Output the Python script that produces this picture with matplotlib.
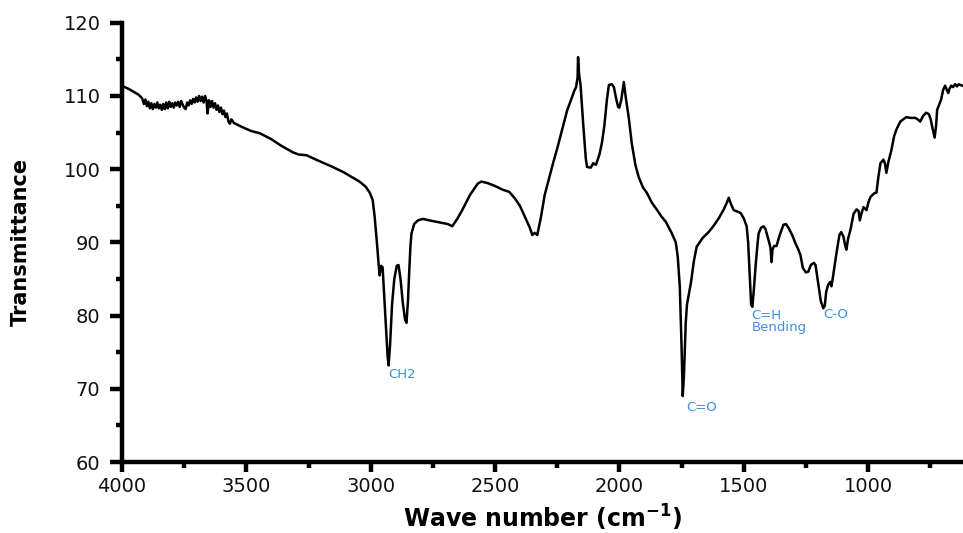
import matplotlib
matplotlib.use("Agg")
import matplotlib.pyplot as plt
from matplotlib.ticker import MultipleLocator, FixedLocator

# Wavenumber (cm-1) and transmittance
wavenumber = [
    4000, 3995, 3970, 3950, 3935, 3925, 3918, 3912, 3906, 3900, 3894, 3888, 3882,
    3876, 3870, 3864, 3858, 3852, 3846, 3840, 3834, 3828, 3822, 3816, 3810, 3804,
    3798, 3792, 3786, 3780, 3774, 3768, 3762, 3756, 3750, 3744, 3738, 3732, 3726,
    3720, 3714, 3708, 3702, 3696, 3690, 3684, 3678, 3672, 3666, 3660, 3656, 3650,
    3644, 3638, 3632, 3626, 3620, 3614, 3608, 3602, 3596, 3590, 3584, 3578, 3572,
    3566, 3560, 3550, 3520, 3480, 3446, 3400, 3360, 3313, 3290, 3258, 3220, 3180,
    3153, 3110, 3070, 3045, 3020, 3004, 2992, 2984, 2975, 2968, 2964, 2958, 2952,
    2946, 2938, 2932, 2928, 2922, 2914, 2905, 2895, 2888, 2880, 2870, 2862, 2856,
    2850, 2845, 2840, 2836, 2825, 2810, 2790, 2764, 2720, 2690, 2672, 2650, 2632,
    2600, 2570, 2555, 2530, 2500, 2470, 2443, 2420, 2400, 2380, 2360, 2350, 2340,
    2330, 2315, 2300, 2282, 2265, 2250, 2230, 2210, 2194, 2180, 2174, 2168, 2166,
    2162, 2156, 2145, 2135, 2130, 2115, 2105, 2094, 2080, 2070, 2060, 2050, 2042,
    2030, 2022, 2012, 2005, 2000, 1992, 1982, 1975, 1962, 1950, 1935, 1922, 1905,
    1890, 1869, 1850, 1830, 1813, 1790, 1773, 1765, 1757, 1750, 1745, 1740, 1733,
    1728, 1720, 1712, 1700, 1689, 1665, 1641, 1620, 1600, 1580, 1568, 1560, 1552,
    1540, 1525, 1512, 1500, 1488, 1482, 1475, 1470, 1465, 1458, 1452, 1445, 1440,
    1430, 1420, 1412, 1404, 1396, 1392, 1388, 1384, 1378, 1368, 1355, 1340, 1330,
    1320, 1305, 1292, 1280, 1272, 1262, 1250, 1240, 1230, 1218, 1211, 1205, 1199,
    1190, 1180, 1174, 1168, 1160, 1152, 1147, 1140, 1127, 1115, 1108, 1099, 1092,
    1087, 1080, 1070, 1058, 1046, 1038, 1033, 1026, 1018, 1006, 998, 990, 975,
    966, 958, 950, 938, 932, 926, 918, 906, 895, 886, 870, 858, 846, 830, 810,
    800, 790, 778, 766, 755, 748, 740, 732, 726, 722, 714, 706, 698, 690, 684,
    677, 672, 665, 658, 650, 642, 635, 629, 620,
]
transmittance = [
    111.5, 111.3, 110.9, 110.5, 110.2, 109.9, 109.6, 108.9, 109.5, 108.6, 109.2, 108.3, 109.0,
    108.2, 108.9, 108.4, 109.1, 108.3, 108.8, 108.1, 108.9, 108.2, 109.1, 108.3, 109.2, 108.5,
    109.0, 108.4, 109.1, 108.7, 109.2, 108.5, 109.3, 108.8, 108.4, 108.2, 109.1, 108.7, 109.4,
    108.9, 109.6, 109.1, 109.8, 109.2, 110.0, 109.3, 109.9, 109.1, 110.0, 109.3, 107.6, 109.4,
    108.5, 109.3, 108.4, 109.0, 108.1, 108.7, 107.8, 108.4, 107.5, 108.0, 107.1, 107.6, 106.5,
    106.2, 106.8, 106.3, 105.8, 105.2, 104.9, 104.1, 103.2, 102.3, 102.0, 101.9, 101.3, 100.7,
    100.3, 99.6, 98.8, 98.3, 97.6, 96.8, 95.8, 93.5, 90.0, 87.0, 85.5, 86.8, 86.6,
    83.0, 78.0, 74.5, 73.2, 76.0, 81.5, 85.0, 86.8, 86.9, 85.0, 81.5, 79.5, 79.0,
    82.0, 86.0, 89.5, 91.2, 92.5, 93.0, 93.2, 93.0, 92.7, 92.5, 92.2, 93.3, 94.4,
    96.5, 98.0, 98.3, 98.1, 97.7, 97.2, 96.9, 96.0, 95.0, 93.5, 92.0, 91.0, 91.3,
    91.0, 93.5, 96.5, 98.8, 101.0, 102.8, 105.4, 108.0, 109.5, 110.8, 111.2, 112.5, 115.3,
    113.0, 111.5, 106.0, 101.5, 100.3, 100.2, 100.8, 100.6, 102.0, 103.6, 106.0, 109.5, 111.5,
    111.6, 111.2, 109.5, 108.5, 108.4, 109.5, 111.9, 110.0, 107.0, 103.5, 100.5, 98.9, 97.5,
    96.8, 95.4, 94.5, 93.5, 92.8, 91.3, 90.0, 88.0, 84.0, 76.0, 69.0, 72.0, 79.0,
    81.5, 83.0, 84.5, 87.5, 89.4, 90.6, 91.4, 92.3, 93.3, 94.5, 95.4, 96.1, 95.3,
    94.4, 94.2, 94.0, 93.3, 92.2, 90.0, 85.0, 81.5, 81.2, 84.0, 86.8, 89.5, 91.2,
    92.0, 92.2, 91.8, 90.8, 89.8, 89.2, 87.3, 89.0, 89.5, 89.5, 91.0, 92.4, 92.5,
    92.0, 91.0, 89.9, 89.0, 88.3, 86.5, 85.9, 86.0, 86.9, 87.2, 86.9, 85.5, 84.0,
    82.0, 81.0, 81.3, 83.3, 84.2, 84.6, 84.0, 85.5, 88.5, 91.0, 91.4, 90.8, 89.6,
    89.0, 90.5, 91.8, 93.9, 94.5, 94.3, 93.0, 94.0, 94.8, 94.4, 95.5, 96.2, 96.7,
    96.8, 99.0, 100.8, 101.3, 100.8, 99.5, 101.0, 102.6, 104.5, 105.4, 106.5, 106.8, 107.1, 107.0, 107.0,
    106.8, 106.5, 107.3, 107.7, 107.5, 106.8, 105.5, 104.3, 106.0, 108.1, 108.8, 109.5, 110.8, 111.4,
    110.9, 110.4, 111.0, 111.4, 111.2, 111.6, 111.3, 111.6, 111.5, 111.4,
]

x_major_ticks = [4000, 3500, 3000, 2500, 2000, 1500, 1000]
y_major_ticks = [60, 70, 80, 90, 100, 110, 120]

annotations = ["CH2", "C=O", "C=H\nBending", "C-O"]
annot_x = [2928, 1729, 1468, 1179]
annot_y = [71.9, 67.4, 80.9, 80.1]
annot_va = ["center", "center", "top", "center"]

plt.rcParams['font.family'] = ['DejaVu Sans']

fig = plt.figure(figsize=(9.63, 5.33), dpi=100)
W, H = 963, 533
ax = fig.add_axes([122 / W, 1 - 462 / H, 1 - 122 / W, (462 - 22.7) / H])

ax.plot(wavenumber, transmittance, color='black', lw=1.8, solid_joinstyle='round')

ax.set_xlim(4000, 618)
ax.set_ylim(60, 120)

for s in ['top', 'right']:
    ax.spines[s].set_visible(False)
for s in ['left', 'bottom']:
    ax.spines[s].set_linewidth(3.2)

ax.xaxis.set_major_locator(FixedLocator(x_major_ticks))
ax.xaxis.set_minor_locator(MultipleLocator(250))
ax.yaxis.set_major_locator(FixedLocator(y_major_ticks))
ax.yaxis.set_minor_locator(MultipleLocator(5))

ax.tick_params(axis='x', which='major', direction='out', length=7.5, width=3.2,
               labelsize=14, pad=3, labelcolor='#111111')
ax.tick_params(axis='y', which='major', direction='out', length=8.5, width=3.2,
               labelsize=14, pad=7, labelcolor='#111111')
ax.tick_params(axis='both', which='minor', direction='out', length=4, width=3.2)

ax.set_xlabel("Wave number (cm$^{\\mathbf{-1}}$)", fontsize=17, fontweight='bold')
ax.set_ylabel("Transmittance", fontsize=15, fontweight='bold')
ax.xaxis.set_label_coords(0.5, -0.092)
ax.yaxis.set_label_coords(-0.108, 0.5)

for txt, x, y, va in zip(annotations, annot_x, annot_y, annot_va):
    ax.text(x, y, txt, color='#3a8ee6', fontsize=9.5, ha='left', va=va,
            linespacing=0.95)

fig.savefig("out.png", dpi=100)
